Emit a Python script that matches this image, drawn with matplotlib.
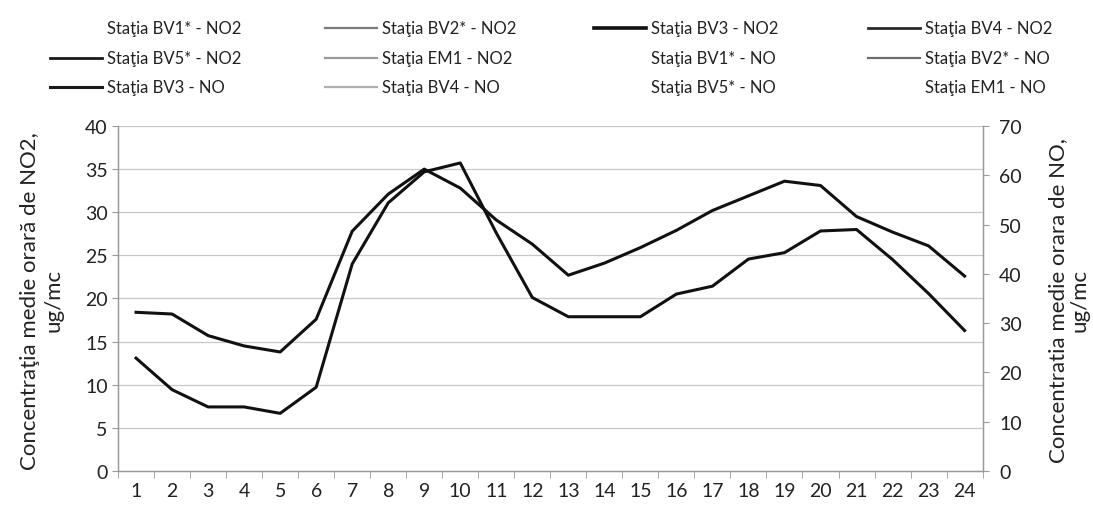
import matplotlib
matplotlib.use("Agg")
import matplotlib.pyplot as plt
from matplotlib.lines import Line2D

plt.rcParams['font.family'] = ['Lato', 'DejaVu Sans']

# --- data ---
hours = list(range(1, 25))
no2_bv3 = [18.4, 18.2, 15.7, 14.5, 13.8, 17.6, 27.8, 32.1, 35.0, 32.8, 29.1, 26.3,
           22.7, 24.1, 25.9, 27.9, 30.2, 31.9, 33.6, 33.1, 29.5, 27.7, 26.1, 22.6]
no_bv3 = [22.9, 16.5, 13.0, 13.0, 11.7, 17.0, 42.0, 54.4, 60.7, 62.5, 48.3, 35.2,
          31.3, 31.3, 31.3, 35.9, 37.5, 43.0, 44.3, 48.7, 49.0, 42.9, 36.0, 28.5]

# legend entries, row by row as in the original
legend_labels = [
    'Staţia BV1* - NO2', 'Staţia BV2* - NO2', 'Staţia BV3 - NO2', 'Staţia BV4 - NO2',
    'Staţia BV5* - NO2', 'Staţia EM1 - NO2', 'Staţia BV1* - NO', 'Staţia BV2* - NO',
    'Staţia BV3 - NO', 'Staţia BV4 - NO', 'Staţia BV5* - NO', 'Staţia EM1 - NO',
]
legend_colors = ['none', '#7a7a7a', '#111111', '#2a2a2a',
                 '#1a1a1a', '#9a9a9a', 'none', '#6e6e6e',
                 '#1a1a1a', '#b0b0b0', 'none', 'none']
legend_widths = [1.5, 1.6, 2.6, 2.0, 2.0, 1.6, 1.5, 1.6, 2.2, 1.6, 1.5, 1.5]

W, H = 1093, 510
fig = plt.figure(figsize=(W / 100, H / 100), dpi=100)
ax = fig.add_axes([0.108, 0.0745, 0.791, 0.6765])
ax2 = ax.twinx()

ax.plot(hours, no2_bv3, color='#111111', lw=2.2)
ax2.plot(hours, no_bv3, color='#111111', lw=2.2)

ax.set_xlim(0.5, 24.5)
ax.set_ylim(0, 40)
ax.set_yticks(range(0, 41, 5))
ax2.set_ylim(0, 70)
ax2.set_yticks(range(0, 71, 10))

# category axis: labels on hours, ticks between them
ax.set_xticks(hours)
ax.set_xticks([h + 0.5 for h in range(0, 25)], minor=True)
ax.tick_params(axis='x', which='major', length=0, labelsize=14, pad=8, colors='#222222')
ax.tick_params(axis='x', which='minor', length=5, color='#999999', direction='out')
ax.tick_params(axis='y', labelsize=14, length=4, color='#999999', colors='#222222')
ax2.tick_params(axis='y', labelsize=14, length=4, color='#999999', colors='#222222', pad=8)

ax.grid(axis='y', color='#c8c8c8', lw=0.9)
ax.set_axisbelow(True)
for a in (ax, ax2):
    a.spines['top'].set_visible(False)
    for s in ('left', 'right', 'bottom'):
        a.spines[s].set_color('#999999')
        a.spines[s].set_linewidth(0.9)

fig.text(0.038, 0.41, 'Concentraţia medie orară de NO2,\nug/mc', rotation=90,
         ha='center', va='center', multialignment='center', fontsize=16, color='#222222')
fig.text(0.978, 0.41, 'Concentratia medie orara de NO,\nug/mc', rotation=90,
         ha='center', va='center', multialignment='center', fontsize=16, color='#222222',
         linespacing=1.1)

# legend laid out by hand: 4 uneven columns, 3 rows (pixel positions)
col_x = [50, 325, 594, 868]
row_y = [29, 59, 88]
handle_len = 52
for i, (lab, col, lw) in enumerate(zip(legend_labels, legend_colors, legend_widths)):
    r, c = divmod(i, 4)
    x0 = col_x[c] / W
    x1 = (col_x[c] + handle_len) / W
    y = 1 - row_y[r] / H
    fig.add_artist(Line2D([x0, x1], [y, y], color=col, lw=lw, transform=fig.transFigure))
    fig.text(x1 + 5 / W, y, lab, fontsize=12, ha='left', va='center', color='#222222')

fig.savefig('out.png', dpi=100)
